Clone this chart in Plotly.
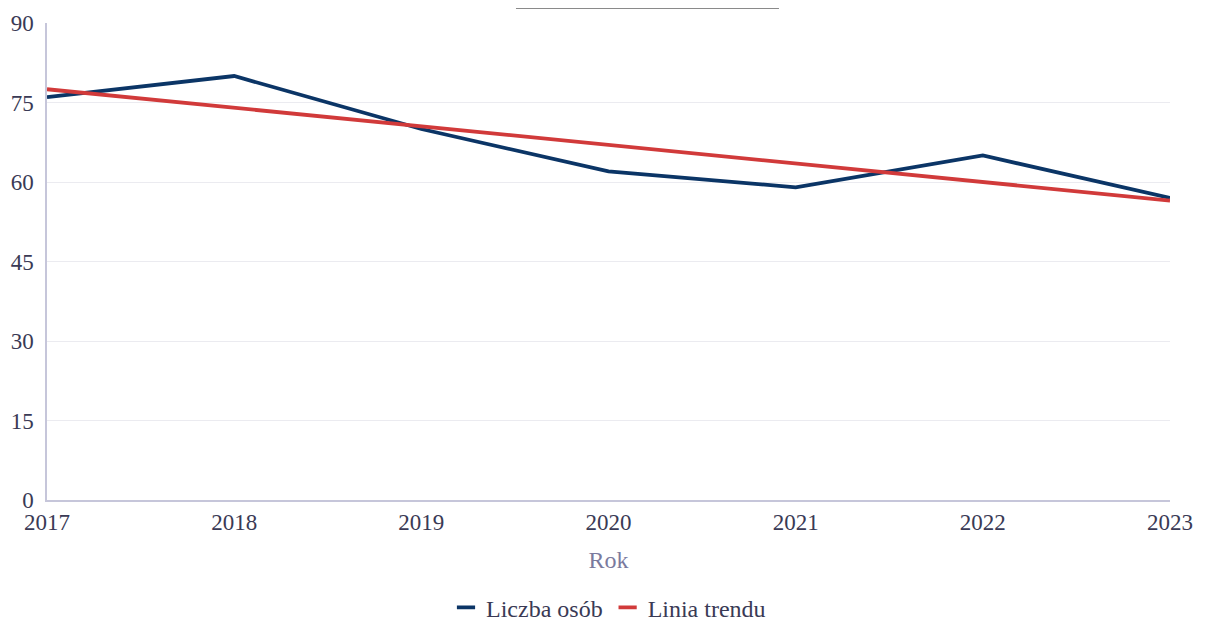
import plotly.graph_objects as go

years = [2017, 2018, 2019, 2020, 2021, 2022, 2023]
liczba_osob = [76, 80, 70, 62, 59, 65, 57]
linia_trendu = [77.5, 74, 70.5, 67, 63.5, 60, 56.5]
y_ticks = [0, 15, 30, 45, 60, 75, 90]

navy = '#0b3566'
red = '#d13a3a'
font = "Georgia, 'Liberation Serif', serif"

fig = go.Figure()
for name, vals, color in [('Liczba osób', liczba_osob, navy), ('Linia trendu', linia_trendu, red)]:
    fig.add_trace(go.Scatter(x=years, y=vals, name=name, mode='lines', showlegend=False,
                             line=dict(color=color, width=3.8)))
    # short dash legend symbol like the original
    fig.add_trace(go.Scatter(x=[None], y=[None], name=name, mode='markers',
                             marker=dict(symbol='line-ew-open', size=13, color=color,
                                         line=dict(color=color, width=3.8))))

# fragment of the table sitting above the chart (cut off by the frame)
box = dict(type='rect', xref='paper', yref='paper', line=dict(color='#8a8a8a', width=2))
fig.add_shape(**box, x0=0.4185, x1=0.6509, y0=1.0314, y1=1.2)
fig.add_shape(type='line', xref='paper', yref='paper', x0=0.5423, x1=0.5423,
              y0=1.0314, y1=1.2, line=dict(color='#8a8a8a', width=2))

# page body adds an 8px margin, so the figure's own margins are 8px smaller
fig.update_layout(
    width=1209, height=624,
    margin=dict(l=39, r=47, t=15, b=132, autoexpand=False),
    plot_bgcolor='white', paper_bgcolor='white',
    font=dict(family=font, size=23, color='#3a3a55'),
    showlegend=True,
    legend=dict(orientation='h', x=0.5, xanchor='center', y=-0.226, yanchor='middle',
                font=dict(size=24, color='#3a3a55'), itemwidth=30),
    hovermode=False,
)
fig.update_xaxes(
    range=[2017, 2023], tickvals=years, ticktext=[str(y) for y in years],
    showgrid=False, showline=True, linecolor='#c6c6da', linewidth=1.5,
    ticks='', tickfont=dict(size=23), ticklabelstandoff=1, automargin=False,
    title=dict(text='Rok', font=dict(size=24, color='#7a7a9e'), standoff=17),
)
fig.update_yaxes(
    range=[0, 90], tickvals=y_ticks, showgrid=True, gridcolor='#ebebf0', gridwidth=1,
    showline=True, linecolor='#c6c6da', linewidth=1.5, zeroline=False,
    ticks='', tickfont=dict(size=23), ticklabelstandoff=7, automargin=False,
)

fig.write_html('out.html')
